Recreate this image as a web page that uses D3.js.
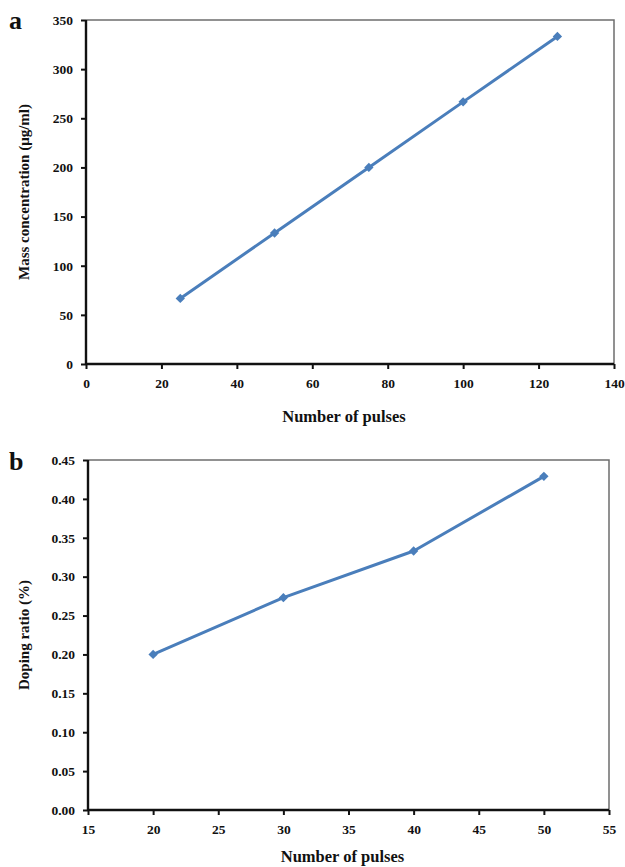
<!DOCTYPE html>
<html>
<head>
<meta charset="utf-8">
<script src="https://cdnjs.cloudflare.com/ajax/libs/d3/7.8.5/d3.min.js"></script>
<style>
  html, body { margin: 0; padding: 0; background: #fff; }
  svg { display: block; }
  text { font-family: "Liberation Serif", "Times New Roman", serif; font-weight: bold; fill: #111; }
</style>
</head>
<body>
<svg id="fig" width="625" height="867"></svg>
<script>
// Panel a: mass concentration vs number of pulses
const pulsesA = [25, 50, 75, 100, 125];
const massConc = [66.7, 133.3, 200, 266.7, 333.3];
const xTicksA = [0, 20, 40, 60, 80, 100, 120, 140];
const yTicksA = [0, 50, 100, 150, 200, 250, 300, 350];

// Panel b: doping ratio vs number of pulses
const pulsesB = [20, 30, 40, 50];
const dopingRatio = [0.200, 0.273, 0.333, 0.429];
const xTicksB = [15, 20, 25, 30, 35, 40, 45, 50, 55];
const yTicksB = [0, 0.05, 0.10, 0.15, 0.20, 0.25, 0.30, 0.35, 0.40, 0.45];

const svg = d3.select("#fig");
const lineColor = "#4a7ebb";

function panel(opts) {
  const { left, top, right, bottom, xs, ys, xDomain, yDomain, xTicks, yTicks, yFmt,
          yTitle, letter, letterY, xTitleY } = opts;
  const x = d3.scaleLinear().domain(xDomain).range([left, right]);
  const y = d3.scaleLinear().domain(yDomain).range([bottom, top]);
  const g = svg.append("g");

  // top and right frame lines
  g.append("path")
    .attr("d", `M${left},${top}H${right}V${bottom}`)
    .attr("fill", "none").attr("stroke", "#6d6d6d").attr("stroke-width", 1.5);

  // y axis
  const yAxis = g.append("g").attr("transform", `translate(${left},0)`)
    .call(d3.axisLeft(y).tickValues(yTicks).tickFormat(yFmt).tickSize(5).tickPadding(8));
  // x axis
  const xAxis = g.append("g").attr("transform", `translate(0,${bottom})`)
    .call(d3.axisBottom(x).tickValues(xTicks).tickFormat(d3.format("d")).tickSize(5).tickPadding(9));

  [yAxis, xAxis].forEach(a => {
    a.select(".domain").attr("stroke", "#111").attr("stroke-width", 2.4);
    a.selectAll(".tick line").attr("stroke", "#111").attr("stroke-width", 2);
    a.selectAll(".tick text")
      .style("font-family", "'Liberation Serif', serif")
      .style("font-weight", "bold").style("font-size", "13.5px").attr("fill", "#111");
  });
  yAxis.select(".domain").attr("d", `M0,${top}V${bottom}`);
  xAxis.select(".domain").attr("d", `M${left},0H${right}`);

  // series line
  const pts = xs.map((d, i) => [d, ys[i]]);
  g.append("path")
    .datum(pts)
    .attr("fill", "none")
    .attr("stroke", lineColor)
    .attr("stroke-width", 3)
    .attr("stroke-linejoin", "round")
    .attr("d", d3.line().x(d => x(d[0])).y(d => y(d[1])));

  // diamond markers
  g.selectAll(".mk").data(pts).enter().append("path")
    .attr("class", "mk")
    .attr("transform", d => `translate(${x(d[0])},${y(d[1])}) rotate(45)`)
    .attr("d", "M-3.3,-3.3H3.3V3.3H-3.3Z")
    .attr("fill", lineColor);

  // axis titles
  g.append("text")
    .attr("transform", `translate(26,${(top + bottom) / 2}) rotate(-90)`)
    .attr("text-anchor", "middle").attr("dominant-baseline", "middle")
    .style("font-size", "15px")
    .text(yTitle);
  g.append("text")
    .attr("x", (left + right) / 2 - 6).attr("y", xTitleY)
    .attr("text-anchor", "middle")
    .style("font-size", "16.5px")
    .text("Number of pulses");

  // panel letter
  g.append("text")
    .attr("x", 9).attr("y", letterY)
    .style("font-size", "26px")
    .text(letter);
}

panel({
  left: 86, top: 20, right: 614, bottom: 364,
  xs: pulsesA, ys: massConc,
  xDomain: [0, 140], yDomain: [0, 350],
  xTicks: xTicksA, yTicks: yTicksA, yFmt: d3.format("d"),
  yTitle: "Mass concentration (μg/ml)",
  letter: "a", letterY: 29, xTitleY: 422
});

panel({
  left: 88, top: 460, right: 609, bottom: 810,
  xs: pulsesB, ys: dopingRatio,
  xDomain: [15, 55], yDomain: [0, 0.45],
  xTicks: xTicksB, yTicks: yTicksB, yFmt: d3.format(".2f"),
  yTitle: "Doping ratio (%)",
  letter: "b", letterY: 470, xTitleY: 862
});
</script>
</body>
</html>
